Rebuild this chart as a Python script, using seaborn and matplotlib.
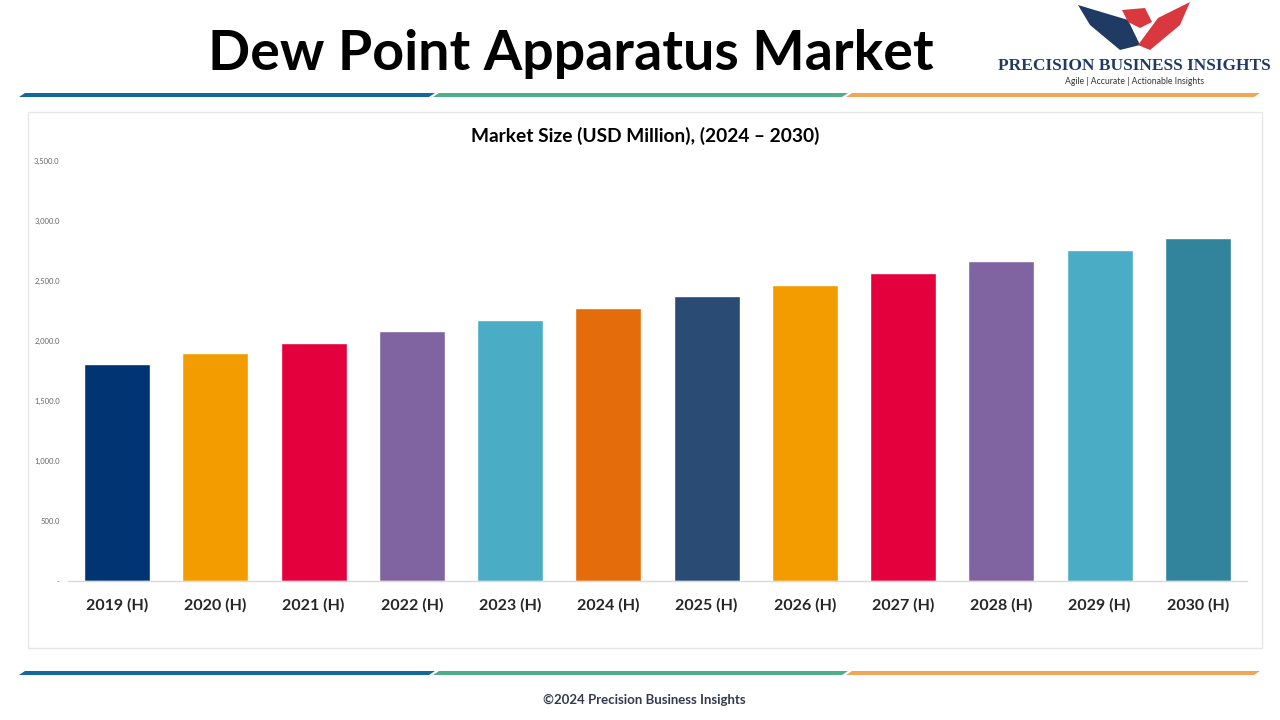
import matplotlib
matplotlib.use('Agg')
import matplotlib.pyplot as plt
from matplotlib.patches import Rectangle, Polygon
import seaborn as sns
import pandas as pd

# chart data
years = ['2019 (H)', '2020 (H)', '2021 (H)', '2022 (H)', '2023 (H)', '2024 (H)',
         '2025 (H)', '2026 (H)', '2027 (H)', '2028 (H)', '2029 (H)', '2030 (H)']
market_size = [1808, 1900, 1983, 2083, 2175, 2275, 2375, 2467, 2567, 2667, 2758, 2858]
bar_colors = ['#003473', '#F39C00', '#E4003C', '#8064A2', '#4BACC6', '#E46C0A',
              '#2A4B73', '#F39C00', '#E4003C', '#8064A2', '#4BACC6', '#31849B']
y_ticks = [0, 500, 1000, 1500, 2000, 2500, 3000, 3500]
y_tick_labels = ['-', '500.0', '1,000.0', '1,500.0', '2,000.0', '2,500.0', '3,000.0', '3,500.0']

df = pd.DataFrame({'year': years, 'size': market_size})

sns.set_style('white')
plt.rcParams['font.family'] = ['Lato', 'DejaVu Sans']

W, H = 1280, 720
fig = plt.figure(figsize=(12.8, 7.2), dpi=100)


def px(x, y):
    # pixel (top-left origin) to figure fraction
    return x / W, 1 - y / H


# chart frame box
fx, fy = px(28, 648)
fig.patches.append(Rectangle((fx, fy), (1262 - 28) / W, (648 - 112) / H,
                             transform=fig.transFigure, fill=False,
                             edgecolor='#e6e6e6', linewidth=1))

# decorative header / footer lines
def stripe(y, x0, x1, color):
    pts = [px(x0 + 3, y - 2), px(x1 + 3, y - 2), px(x1 - 3, y + 2), px(x0 - 3, y + 2)]
    fig.patches.append(Polygon(pts, closed=True, transform=fig.transFigure,
                               facecolor=color, edgecolor='none'))

for yy in (95, 673):
    stripe(yy, 22, 432, '#14679A')
    stripe(yy, 436, 845, '#4DAE8A')
    stripe(yy, 849, 1257, '#F2A556')

# main bar axes
ax_l, ax_b = px(68, 581)
ax = fig.add_axes([ax_l, ax_b, (1247 - 68) / W, 420 / H])
sns.barplot(data=df, x='year', y='size', hue='year', palette=bar_colors,
            width=0.67, legend=False, saturation=1, ax=ax)
ax.set_ylim(0, 3500)
ax.set_xlim(-0.5, len(years) - 0.5)
ax.set_yticks(y_ticks)
ax.set_yticklabels(y_tick_labels, fontsize=5.5, color='#666666')
ax.tick_params(axis='y', length=0, pad=6)
ax.tick_params(axis='x', length=0, pad=12)
for lab in ax.get_xticklabels():
    lab.set_fontsize(11.5)
    lab.set_fontweight('bold')
ax.set_xlabel('')
ax.set_ylabel('')
for side in ('left', 'top', 'right'):
    ax.spines[side].set_visible(False)
ax.spines['bottom'].set_color('#d9d9d9')
ax.spines['bottom'].set_linewidth(1)

# titles
fig.text(*px(571, 54), 'Dew Point Apparatus Market', ha='center', va='center',
         fontsize=40, fontweight='bold', color='black')
fig.text(*px(645, 136), 'Market Size (USD Million), (2024 – 2030)', ha='center',
         va='center', fontsize=13.8, fontweight='bold', color='black')
fig.text(*px(644, 700), '©2024 Precision Business Insights', ha='center', va='center',
         fontsize=9.5, fontweight='bold', color='#333a4d')

# simple logo
wing_l = [px(1078, 5), px(1128, 20), px(1140, 45), px(1120, 50), px(1090, 25)]
wing_r = [px(1190, 2), px(1180, 25), px(1150, 50), px(1138, 45), px(1158, 18)]
head = [px(1122, 10), px(1145, 8), px(1152, 22), px(1140, 28), px(1128, 22)]
fig.patches.append(Polygon(wing_l, closed=True, transform=fig.transFigure,
                           facecolor='#1F3B64', edgecolor='none'))
fig.patches.append(Polygon(wing_r, closed=True, transform=fig.transFigure,
                           facecolor='#D9393E', edgecolor='none'))
fig.patches.append(Polygon(head, closed=True, transform=fig.transFigure,
                           facecolor='#D9393E', edgecolor='none'))
fig.text(*px(1134, 66), 'PRECISION BUSINESS INSIGHTS', ha='center', va='center',
         fontsize=12.5, fontweight='bold', family=['Liberation Serif', 'DejaVu Serif'],
         color='#1F3B64')
fig.text(*px(1135, 81), 'Agile | Accurate | Actionable Insights', ha='center',
         va='center', fontsize=6.2, color='#333333')

fig.savefig('out.png', dpi=100)
